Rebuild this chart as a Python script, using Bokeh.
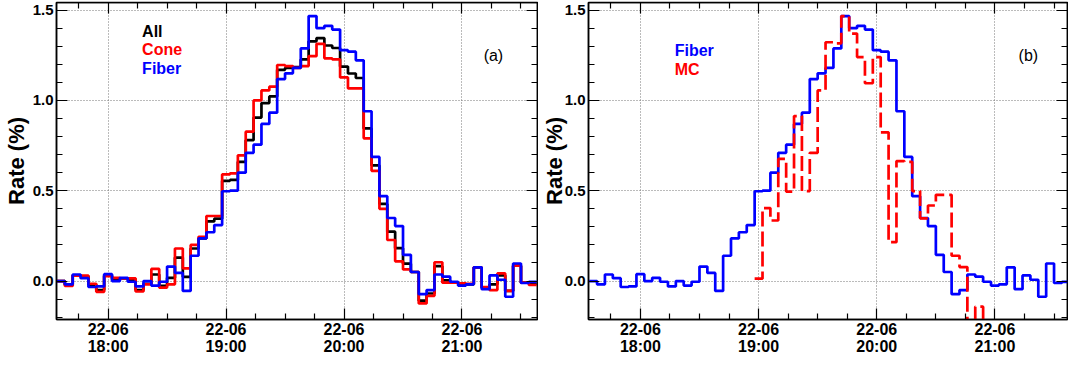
import numpy as np
from bokeh.plotting import figure
from bokeh.models import (Range1d, FixedTicker, SingleIntervalTicker, LinearAxis, Label,
                          NumeralTickFormatter, CustomJSTickFormatter, CustomLabelingPolicy)
from bokeh.layouts import row
from bokeh.embed import file_html
from bokeh.resources import INLINE


def hm(s):
    h, m = s.split(":")
    v = int(h) * 60 + float(m)
    return int(v) if v == int(v) else v


# ---------------- data ----------------
bin_width_min = 4
data_first_bin = "17:34"
mc_first_bin = "18:58"

rate_all = [0.0, -0.02, 0.032, 0.026, -0.02, -0.05, 0.03, 0.01, 0.015, 0.005,
            -0.05, -0.015, 0.036, -0.027, 0.018, 0.13, 0.023, 0.18, 0.236, 0.33,
            0.345, 0.555, 0.56, 0.66, 0.78, 0.905, 0.985, 1.022, 1.169, 1.18,
            1.185, 1.227, 1.327, 1.345, 1.304, 1.29, 1.187, 1.149, 1.124, 0.845,
            0.64, 0.427, 0.273, 0.182, 0.096, 0.05, -0.109, -0.069, 0.082, 0.004,
            -0.009, -0.015, -0.018, 0.076, -0.036, -0.018, 0.031, -0.055, 0.085, -0.009,
            -0.015]

rate_cone = [0.0, -0.027, 0.03, 0.03, -0.015, -0.06, 0.027, 0.018, 0.015, 0.015,
             -0.058, -0.018, 0.067, -0.036, -0.018, 0.18, 0.07, 0.2, 0.245, 0.36,
             0.36, 0.59, 0.596, 0.696, 0.827, 1.0, 1.055, 1.076, 1.196, 1.19,
             1.18, 1.19, 1.245, 1.313, 1.233, 1.227, 1.127, 1.067, 1.067, 0.79,
             0.61, 0.40, 0.227, 0.109, 0.064, 0.05, -0.124, -0.082, 0.104, -0.009,
             -0.009, -0.013, -0.015, 0.076, -0.033, -0.05, 0.042, -0.055, 0.085, -0.009,
             -0.022]

rate_fiber = [0.0, -0.018, 0.036, 0.016, -0.033, -0.03, 0.038, 0.0, 0.018, -0.004,
              -0.03, 0.0, -0.025, -0.004, 0.08, 0.045, -0.055, 0.14, 0.236, 0.27,
              0.31, 0.497, 0.5, 0.6, 0.71, 0.755, 0.87, 0.932, 1.118, 1.15,
              1.18, 1.288, 1.467, 1.40, 1.413, 1.392, 1.278, 1.27, 1.222, 0.94,
              0.687, 0.47, 0.349, 0.304, 0.145, 0.05, -0.073, -0.05, 0.036, 0.024,
              -0.004, -0.025, -0.018, 0.076, -0.045, 0.031, 0.007, -0.087, 0.097, -0.011,
              -0.005]

rate_mc = [0.013, 0.404, 0.335, 0.676, 0.495, 0.913, 0.498, 0.71, 1.055, 1.322,
           1.316, 1.467, 1.37, 1.24, 1.095, 1.24, 0.823, 0.215, 0.664, 0.66,
           0.498, 0.347, 0.418, 0.477, 0.477, 0.14, 0.077, -0.3, -0.142, -0.3]

tick_times = ["18:00", "19:00", "20:00", "21:00"]
tick_dates = ["22-06", "22-06", "22-06", "22-06"]
minor_times = ["17:45", "18:15", "18:30", "18:45", "19:15", "19:30", "19:45",
               "20:15", "20:30", "20:45", "21:15", "21:30"]

FONT = "Liberation Sans"
Y_START, Y_END = -0.213, 1.542
LW = 2.7

NO_LABELS = CustomLabelingPolicy(code="""
const n = indices.size
for (let i = 0; i < n; i++) { indices.unset(i) }
return indices
""")


def step_xy(first, values):
    x0 = hm(first)
    xs = [x0 + bin_width_min * i for i in range(len(values) + 1)]
    ys = list(values) + [values[-1]]
    return xs, ys


def style_ticks(ax):
    ax.axis_line_color = "black"
    ax.axis_line_width = 1.5
    ax.major_tick_in = 11
    ax.major_tick_out = 0
    ax.minor_tick_in = 6
    ax.minor_tick_out = 0
    ax.major_tick_line_color = "black"
    ax.minor_tick_line_color = "black"
    ax.major_tick_line_width = 1.2
    ax.minor_tick_line_width = 1.2


def make_fig(width, x_start, x_end, b_left, b_right, label_standoff):
    p = figure(width=width, height=357, output_backend="svg", toolbar_location=None,
               x_range=Range1d(hm(x_start), hm(x_end)), y_range=Range1d(Y_START, Y_END),
               min_border_left=b_left, min_border_right=b_right,
               min_border_top=2, min_border_bottom=35)
    p.outline_line_color = "black"
    p.outline_line_width = 1.5
    major = [hm(t) for t in tick_times]
    minor = [hm(t) for t in minor_times]
    xt = FixedTicker(ticks=major, minor_ticks=minor)
    yt = SingleIntervalTicker(interval=0.5, num_minor_ticks=5)

    # bottom axis: ticks + date line
    xa = p.xaxis[0]
    xa.ticker = xt
    xa.major_label_overrides = {hm(t): d for t, d in zip(tick_times, tick_dates)}
    xa.major_label_standoff = 3
    # second bottom axis: time line
    xb = LinearAxis(ticker=FixedTicker(ticks=major))
    xb.major_label_overrides = {hm(t): t for t in tick_times}
    xb.major_label_standoff = -6
    xb.axis_line_color = None
    xb.major_tick_line_color = None
    xb.minor_tick_line_color = None
    p.add_layout(xb, "below")

    ya = p.yaxis[0]
    ya.ticker = yt
    ya.formatter = NumeralTickFormatter(format="0.0")
    ya.axis_label = "Rate (%)"
    ya.axis_label_text_font = FONT
    ya.axis_label_text_font_style = "bold"
    ya.axis_label_text_font_size = "22px"
    ya.axis_label_text_color = "black"
    ya.axis_label_standoff = label_standoff
    ya.major_label_standoff = 3
    for ax in (xa, xb, ya):
        ax.major_label_text_font = FONT
        ax.major_label_text_font_style = "bold"
        ax.major_label_text_color = "black"
    xa.major_label_text_font_size = "16px"
    xb.major_label_text_font_size = "16px"
    ya.major_label_text_font_size = "15px"

    top = LinearAxis(ticker=xt, fixed_location=Y_END)
    right = LinearAxis(ticker=yt, fixed_location=hm(x_end))
    p.add_layout(top, "above")
    p.add_layout(right, "right")
    for ax in (top, right):
        ax.formatter = CustomJSTickFormatter(code="return ''")
        ax.major_label_policy = NO_LABELS
        ax.major_label_standoff = 0
        ax.axis_label_standoff = 0
    for ax in (xa, ya, top, right):
        style_ticks(ax)
    p.xgrid.ticker = FixedTicker(ticks=major)
    p.ygrid.ticker = SingleIntervalTicker(interval=0.5)
    for g in (p.xgrid, p.ygrid):
        g.grid_line_color = "#777777"
        g.grid_line_dash = "1 2"
        g.grid_line_width = 1
    return p


pa = make_fig(538, "17:33.76", "21:38.4", 55, 1, 1)
for vals, col in ((rate_all, "black"), (rate_cone, "#ff0000"), (rate_fiber, "#0000ff")):
    xs, ys = step_xy(data_first_bin, vals)
    pa.step(xs, ys, mode="after", line_color=col, line_width=LW)

for txt, yv, col in (("All", 1.332, "black"), ("Cone", 1.232, "#ff0000"), ("Fiber", 1.132, "#0000ff")):
    pa.add_layout(Label(x=hm("18:17.3"), y=yv, text=txt, text_color=col, text_font=FONT,
                        text_font_style="bold", text_font_size="16px"))
pa.add_layout(Label(x=hm("21:11"), y=1.247, text="(a)", text_font=FONT, text_font_size="16px",
                    text_baseline="middle", text_color="black"))

pb = make_fig(530, "17:33.66", "21:36.83", 49, 1, -5)
xs, ys = step_xy(data_first_bin, rate_fiber)
pb.step(xs, ys, mode="after", line_color="#0000ff", line_width=LW)
xs, ys = step_xy(mc_first_bin, rate_mc)
pb.step(xs, ys, mode="after", line_color="#ff0000", line_width=LW, line_dash="15 5")
for txt, yv, col in (("Fiber", 1.23, "#0000ff"), ("MC", 1.126, "#ff0000")):
    pb.add_layout(Label(x=hm("18:17.4"), y=yv, text=txt, text_color=col, text_font=FONT,
                        text_font_style="bold", text_font_size="16px"))
pb.add_layout(Label(x=hm("21:12"), y=1.247, text="(b)", text_font=FONT, text_font_size="16px",
                    text_baseline="middle", text_color="black"))

layout = row(pa, pb)
open("out.html", "w").write(file_html(layout, INLINE))
